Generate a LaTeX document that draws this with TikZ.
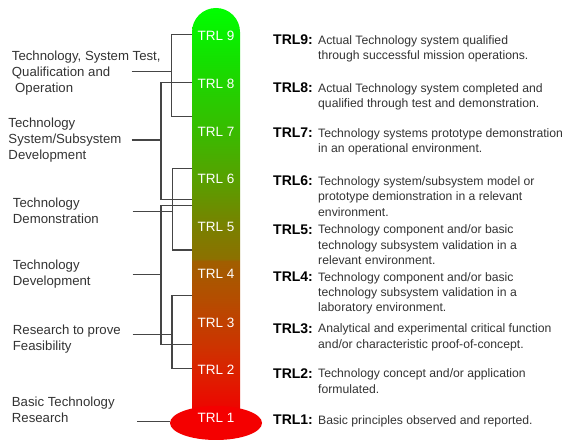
\documentclass[tikz,border=0pt]{standalone}
\usepackage{fontspec}
\setmainfont{Liberation Sans}
\usetikzlibrary{shapes.geometric}
\definecolor{linkgray}{HTML}{454545}
\definecolor{labelink}{HTML}{333333}
\definecolor{bulbred}{HTML}{F40000}
% green at the top, olive in the middle, red at the bottom
\pgfdeclareverticalshading{trlscale}{100bp}{
  rgb(0bp)=(0.94,0,0);
  rgb(25bp)=(0.94,0,0);
  rgb(29.3bp)=(0.878,0.110,0);
  rgb(33.6bp)=(0.8,0.204,0);
  rgb(39.1bp)=(0.71,0.30,0);
  rgb(43.9bp)=(0.63,0.37,0);
  rgb(44.2bp)=(0.55,0.44,0);
  rgb(48bp)=(0.478,0.502,0);
  rgb(53.9bp)=(0.345,0.627,0);
  rgb(60bp)=(0.220,0.737,0);
  rgb(68.6bp)=(0.078,0.878,0);
  rgb(75bp)=(0,1,0);
  rgb(100bp)=(0,1,0)}
\tikzset{
  link/.style={draw=linkgray, line width=1.1pt},
  level/.style={text=white, font=\fontsize{13.5}{16}\selectfont, inner sep=0pt},
  phase/.style={anchor=north west, align=left, inner sep=0pt, text=labelink,
    font=\fontsize{13.2}{16}\selectfont},
  tag/.style={anchor=west, inner sep=0pt, text=black,
    font=\fontsize{14}{16}\selectfont\bfseries},
  desc/.style={anchor=north west, align=left, inner sep=0pt, text=labelink,
    font=\fontsize{12.2}{15.3}\selectfont},
}
\begin{document}
\begin{tikzpicture}[x=1pt,y=1pt]
\useasboundingbox (0,0) rectangle (572,446);

% ---- bracket connectors (drawn first, the tube covers their ends)
\coordinate (A-top) at (194,411.7);
\coordinate (A-bot) at (194,329.7);
\coordinate (A-knee) at (171.7,374.3);
\coordinate (A-in) at (131.7,374.3);
\draw[link] (A-top) -| (A-knee) |- (A-bot);
\draw[link] (A-in) -- (A-knee);

\coordinate (B-top) at (194,363.7);
\coordinate (B-bot) at (194,246.8);
\coordinate (B-knee) at (161,306);
\coordinate (B-in) at (131.7,306);
\draw[link] (B-top) -| (B-knee) |- (B-bot);
\draw[link] (B-in) -- (B-knee);

\coordinate (C-top) at (194,277.3);
\coordinate (C-bot) at (194,196);
\coordinate (C-knee) at (172.3,234.3);
\coordinate (C-in) at (132.7,234.3);
\draw[link] (C-top) -| (C-knee) |- (C-bot);
\draw[link] (C-in) -- (C-knee);

\coordinate (D-top) at (194,240.2);
\coordinate (D-bot) at (194,101.7);
\coordinate (D-knee) at (161,171.8);
\coordinate (D-in) at (132.7,171.8);
\draw[link] (D-top) -| (D-knee) |- (D-bot);
\draw[link] (D-in) -- (D-knee);

\coordinate (E-top) at (194,150.5);
\coordinate (E-bot) at (194,77.7);
\coordinate (E-knee) at (172,111.7);
\coordinate (E-in) at (132.7,111.7);
\draw[link] (E-top) -| (E-knee) |- (E-bot);
\draw[link] (E-in) -- (E-knee);

% ---- thermometer tube and bulb
\shade[shading=trlscale] (192,31) -- (192,414)
  arc[start angle=180, end angle=0, radius=24] -- (240,31) -- cycle;
\node[ellipse, fill=bulbred, minimum width=92pt, minimum height=34pt,
  inner sep=0pt] (bulb) at (216,23) {};

\coordinate (F-in) at (137.3,24.5);
\draw[link] (F-in) -- (F-in -| bulb.west);

% ---- level labels on the tube
\node[level] (t9) at (216,410) {TRL 9};
\node[level] (t8) at (216,362) {TRL 8};
\node[level] (t7) at (216,314.5) {TRL 7};
\node[level] (t6) at (216,266.7) {TRL 6};
\node[level] (t5) at (216,218.7) {TRL 5};
\node[level] (t4) at (216,171.7) {TRL 4};
\node[level] (t3) at (216,123.5) {TRL 3};
\node[level] (t2) at (216,76) {TRL 2};
\node[level] (t1) at (216,28.5) {TRL 1};

% ---- phase names on the left
\node[phase] (pA) at (11.7,396.5) {\strut Technology, System Test,\\Qualification and\\\hspace*{3.3pt}Operation};
\node[phase] (pB) at (8.3,329.5) {\strut Technology\\System/Subsystem\\Development};
\node[phase] (pC) at (12.7,249.5) {\strut Technology\\Demonstration};
\node[phase] (pD) at (12.7,187.5) {\strut Technology\\Development};
\node[phase] (pE) at (12.7,122.5) {\strut Research to prove\\Feasibility};
\node[phase] (pF) at (11.7,50.5) {\strut Basic Technology\\Research};

% ---- level descriptions on the right
\node[tag] (d9) at (273,406) {TRL9:};
\node[desc] (x9) at (318,412.3) {\strut Actual Technology system qualified\\through successful mission operations.};
\node[tag] (d8) at (273,358) {TRL8:};
\node[desc] (x8) at (318,364.3) {\strut Actual Technology system completed and\\qualified through test and demonstration.};
\node[tag] (d7) at (273,313.3) {TRL7:};
\node[desc] (x7) at (318,319.6) {\strut Technology systems prototype demonstration\\in an operational environment.};
\node[tag] (d6) at (273,265) {TRL6:};
\node[desc] (x6) at (318,271.3) {\strut Technology system/subsystem model or\\prototype demionstration in a relevant\\environment.};
\node[tag] (d5) at (273,216.7) {TRL5:};
\node[desc] (x5) at (318,223) {\strut Technology component and/or basic\\technology subsystem validation in a\\relevant environment.};
\node[tag] (d4) at (273,169.3) {TRL4:};
\node[desc] (x4) at (318,175.6) {\strut Technology component and/or basic\\technology subsystem validation in a\\laboratory environment.};
\node[tag] (d3) at (273,117.7) {TRL3:};
\node[desc] (x3) at (318,124) {\strut Analytical and experimental critical function\\and/or characteristic proof-of-concept.};
\node[tag] (d2) at (273,72.7) {TRL2:};
\node[desc] (x2) at (318,79) {\strut Technology concept and/or application\\formulated.};
\node[tag] (d1) at (273,26) {TRL1:};
\node[desc] (x1) at (318,32.3) {\strut Basic principles observed and reported.};
\end{tikzpicture}
\end{document}
